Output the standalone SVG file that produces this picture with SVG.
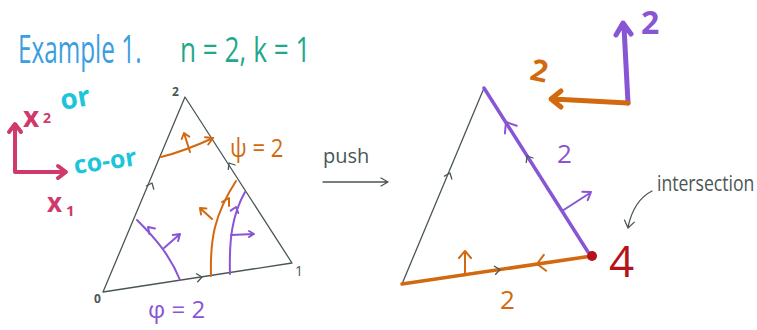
<svg xmlns="http://www.w3.org/2000/svg" width="757" height="330" viewBox="0 0 757 330">
<style>
text{font-family:"Open Sans","Liberation Sans",sans-serif}
.gl{fill:none;stroke:#4a5655;stroke-width:1.3;stroke-linecap:round;stroke-linejoin:round}
.o{fill:none;stroke:#d2690f;stroke-width:2;stroke-linecap:round;stroke-linejoin:round}
.p{fill:none;stroke:#8855d5;stroke-width:2;stroke-linecap:round;stroke-linejoin:round}
.ot{fill:#d2690f}
.pt{fill:#8855d5}
.gt{fill:#4a5655}
.m{fill:none;stroke:#d03a6a;stroke-width:4;stroke-linecap:round;stroke-linejoin:round}
.mt{fill:#d03a6a;font-weight:bold}
.ct{fill:#1cc4dc;font-weight:bold}
</style>
<g id="title">
<g transform="translate(18,63) scale(0.64,1)"><text x="0" y="0" font-size="38" fill="#3a9ee0">Example 1.</text></g>
<g transform="translate(180,62) scale(0.77,1)"><text x="0" y="0" font-size="34" fill="#1fa88a">n = 2, k = 1</text></g>
</g>
<g id="axes">
<path class="m" d="M15,172 L15,126 M15,172 L64,172"/>
<path class="m" d="M9,132 L15,124 L21,132 M58,166 L66,172 L58,178"/>
<text class="mt" x="23" y="127" font-size="28">x</text>
<text class="mt" x="43" y="123" font-size="14">2</text>
<text class="ct" x="62" y="110" font-size="28" transform="rotate(-10 62 110)">or</text>
<g transform="translate(75,174) rotate(-8)"><text class="ct" x="0" y="0" font-size="25">co-or</text></g>
<text class="mt" x="47" y="212" font-size="26">x</text>
<text class="mt" x="66" y="216" font-size="15">1</text>
</g>
<g id="left-triangle">
<path class="gl" d="M103,292 L185,97 L292,263 Z"/>
<path class="gl" d="M146.4,186 L152,183 L153.8,189.2 M235.1,165 L229,163 L228.3,169.4 M197.7,281.7 L202,277 L196.5,273.8"/>
<text class="gt" x="172" y="96" font-size="12" font-weight="bold">2</text>
<text class="gt" x="295" y="276" font-size="14">1</text>
<text class="gt" x="94" y="303" font-size="12" font-weight="bold">0</text>
</g>
<g id="psi-curves">
<path class="o" d="M161,157 Q185,151 213,138"/>
<path class="o" d="M208.2,144.5 L213,138 L205,137.2"/>
<path class="o" d="M190,152 L184,133 M189.3,136.6 L184,133 L181.7,139"/>
<path class="o" d="M211,276 C210,240 214,215 236,181"/>
<path class="o" d="M229,206 L229,198 L222,202"/>
<path class="o" d="M212,219 L200,208 M206.4,208.4 L200,208 L201,214.4"/>
<g transform="translate(230,157) scale(0.85,1)"><text class="ot" x="0" y="0" font-size="26">ψ = 2</text></g>
</g>
<g id="phi-curves">
<path class="p" d="M180,280 C170,255 155,238 137,220"/>
<path class="p" d="M155,228.4 L148,227 L149.4,234"/>
<path class="p" d="M164,248 L180,234 M178.1,241 L180,234 L172.9,235"/>
<path class="p" d="M230,274 C229,240 232,215 245,192"/>
<path class="p" d="M238.3,213 L236,207 L230.7,210.6"/>
<path class="p" d="M231,235 L254,234 M249,231 L254,234 L249,237"/>
<text class="pt" x="148" y="318" font-size="24">φ = 2</text>
</g>
<g id="push">
<text class="gt" x="323" y="163" font-size="20">push</text>
<path class="gl" d="M323,182 L388,182 M381,178 L388,182 L381,186"/>
</g>
<g id="right-triangle">
<path class="gl" d="M402,284 L484,88"/>
<path class="gl" d="M451.8,179.1 L450,173 L444.4,176.1"/>
<path d="M484,88 L588,252" fill="none" stroke="#8855d5" stroke-width="3.5" stroke-linecap="round"/>
<path d="M402,284 L592,256" fill="none" stroke="#d2690f" stroke-width="3.5" stroke-linecap="round"/>
<path class="gl" d="M533.1,158 L527,156 L526.3,162.4 M495.6,274.3 L500,269.6 L494.4,266.3"/>
<path class="p" stroke-width="3.5" d="M516.7,125.8 L506,122 L504.9,133.4"/>
<path class="p" stroke-width="4" d="M562,211 L590,193 M587.7,200.2 L591,192 L582.3,191.8"/>
<path class="o" stroke-width="3.5" d="M546.2,270.7 L537,264 L543.8,254.9"/>
<path class="o" stroke-width="4" d="M465,275 L465,252 M459,258 L465,251 L471,258"/>
<text class="pt" x="557" y="163" font-size="26">2</text>
<text class="ot" x="500" y="309" font-size="26">2</text>
<circle cx="592" cy="256" r="5" fill="#b5121b"/>
<text x="609" y="277" font-size="44" fill="#b5121b">4</text>
</g>
<g id="intersection">
<g transform="translate(657,191) scale(0.8,1)"><text class="gt" x="0" y="0" font-size="22">intersection</text></g>
<path class="gl" stroke-width="2" d="M652,191 Q634,200 628,227 M634.3,222.1 L628,228 L624.5,220.1"/>
</g>
<g id="basis">
<path fill="none" stroke="#8855d5" stroke-width="5" stroke-linecap="round" stroke-linejoin="round" d="M628,103 L624,27 M616,35 L623,23 L631,34"/>
<path fill="none" stroke="#d2690f" stroke-width="5" stroke-linecap="round" stroke-linejoin="round" d="M628,103 L553,99 M561,91 L551,99 L561,107"/>
<text class="pt" x="641" y="34" font-size="32" font-weight="bold">2</text>
<text class="ot" x="531" y="82" font-size="30" font-weight="bold" transform="rotate(12 543 70)">2</text>
</g>
</svg>
